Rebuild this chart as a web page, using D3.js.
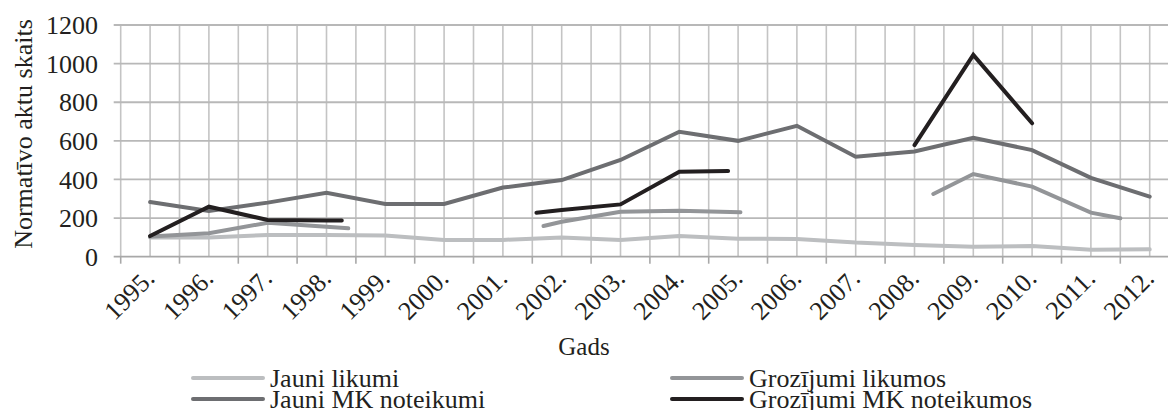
<!DOCTYPE html>
<html>
<head>
<meta charset="utf-8">
<script src="https://cdn.jsdelivr.net/npm/d3@7"></script>
<style>
	body { margin: 0; background: #fff; }
	svg text { font-family: "Liberation Serif", "Times New Roman", Times, serif; fill: #231f20; }
</style>
</head>
<body>
<svg id="chart" width="1168" height="410"></svg>
<script>
// categories
const years = [1995, 1996, 1997, 1998, 1999, 2000, 2001, 2002, 2003, 2004, 2005, 2006, 2007, 2008, 2009, 2010, 2011, 2012]
const yTicks = [0, 200, 400, 600, 800, 1000, 1200]

// series values, one per year
const jauniLikumi = [100, 100, 113, 113, 110, 87, 87, 100, 87, 107, 93, 92, 73, 61, 52, 55, 36, 38]
const jauniMK = [283, 237, 280, 331, 273, 273, 358, 397, 501, 647, 600, 678, 518, 545, 616, 552, 408, 311]

// amendments are drawn in broken pieces, [year, value]
const grozLikumos = [
	[[1995, 104], [1996, 121], [1997, 176], [1998, 155], [1998.37, 147]],
	[[2001.69, 159], [2002, 181], [2003, 233], [2004, 238], [2005.04, 230]],
	[[2008.32, 325], [2009, 428], [2010, 363], [2011, 228], [2011.5, 199]]
]
const grozMK = [
	[[1995, 107], [1996, 259], [1997, 190], [1998, 187], [1998.26, 187]],
	[[2001.57, 228], [2002, 242], [2003, 271], [2004, 440], [2004.83, 444]],
	[[2008, 578], [2009, 1045], [2010, 691]]
]

const seriesNames = ['Jauni likumi', 'Grozījumi likumos', 'Jauni MK noteikumi', 'Grozījumi MK noteikumos']
const colors = ['#bcbec0', '#939598', '#6d6e71', '#231f20']

const svg = d3.select('#chart')
const pLeft = 120.7, pRight = 1179.1, pTop = 25, pBottom = 256.7
const fs = '26px'

const x = d3.scaleLinear()
	.domain([years[0] - 0.5, years[years.length - 1] + 0.5])
	.range([pLeft, pRight])
const y = d3.scaleLinear()
	.domain([0, 1200])
	.range([pBottom, pTop])

// gridlines: vertical on every half category
const halfSteps = d3.range(years[0] - 0.5, years[years.length - 1] + 0.51, 0.5)
svg.append('g')
	.selectAll('line')
	.data(halfSteps)
	.join('line')
	.attr('x1', d => x(d)).attr('x2', d => x(d))
	.attr('y1', pTop).attr('y2', pBottom)
	.attr('stroke', '#c4c4c4')
	.attr('stroke-width', 1.6)

svg.append('g')
	.selectAll('line')
	.data(yTicks)
	.join('line')
	.attr('x1', pLeft - 7).attr('x2', pRight)
	.attr('y1', d => y(d)).attr('y2', d => y(d))
	.attr('stroke', d => d === 0 ? '#a8a8a8' : '#b8b8b8')
	.attr('stroke-width', 1.8)

// x ticks at category borders
svg.append('g')
	.selectAll('line')
	.data(d3.range(years[0] - 0.5, years[years.length - 1] + 0.51, 1))
	.join('line')
	.attr('x1', d => x(d)).attr('x2', d => x(d))
	.attr('y1', pBottom).attr('y2', pBottom + 7)
	.attr('stroke', '#a8a8a8')
	.attr('stroke-width', 1.6)

// y tick labels
svg.append('g')
	.selectAll('text')
	.data(yTicks)
	.join('text')
	.attr('x', 98)
	.attr('y', d => y(d))
	.attr('dy', '0.35em')
	.attr('text-anchor', 'end')
	.style('font-size', fs)
	.text(d => d)

// x tick labels
svg.append('g')
	.selectAll('text')
	.data(years)
	.join('text')
	.attr('text-anchor', 'end')
	.attr('transform', d => `translate(${x(d) + 6}, 280) rotate(-45)`)
	.style('font-size', fs)
	.text(d => d + '.')

// axis titles
svg.append('text')
	.attr('transform', 'translate(32, 134) rotate(-90)')
	.attr('text-anchor', 'middle')
	.style('font-size', fs)
	.text('Normatīvo aktu skaits')

svg.append('text')
	.attr('x', 584)
	.attr('y', 355)
	.attr('text-anchor', 'middle')
	.style('font-size', '25px')
	.text('Gads')

// lines
const line = d3.line()
	.x(d => x(d[0]))
	.y(d => y(d[1]))

const drawPath = (pts, color) => svg.append('path')
	.attr('d', line(pts))
	.attr('fill', 'none')
	.attr('stroke', color)
	.attr('stroke-width', 4)
	.attr('stroke-linecap', 'round')
	.attr('stroke-linejoin', 'miter')

drawPath(years.map((yr, i) => [yr, jauniLikumi[i]]), colors[0])
drawPath(years.map((yr, i) => [yr, jauniMK[i]]), colors[2])
grozLikumos.forEach(seg => drawPath(seg, colors[1]))
grozMK.forEach(seg => drawPath(seg, colors[3]))

// legend
const legX = [193, 672]
const legY = [378, 399]
seriesNames.forEach((name, i) => {
	const lx = legX[i % 2]
	const ly = legY[Math.floor(i / 2)]
	svg.append('line')
		.attr('x1', lx).attr('x2', lx + 70)
		.attr('y1', ly).attr('y2', ly)
		.attr('stroke', colors[i])
		.attr('stroke-width', 4)
		.attr('stroke-linecap', 'round')
	svg.append('text')
		.attr('x', lx + 77)
		.attr('y', ly)
		.attr('dy', '0.33em')
		.style('font-size', fs)
		.text(name)
})
</script>
</body>
</html>
